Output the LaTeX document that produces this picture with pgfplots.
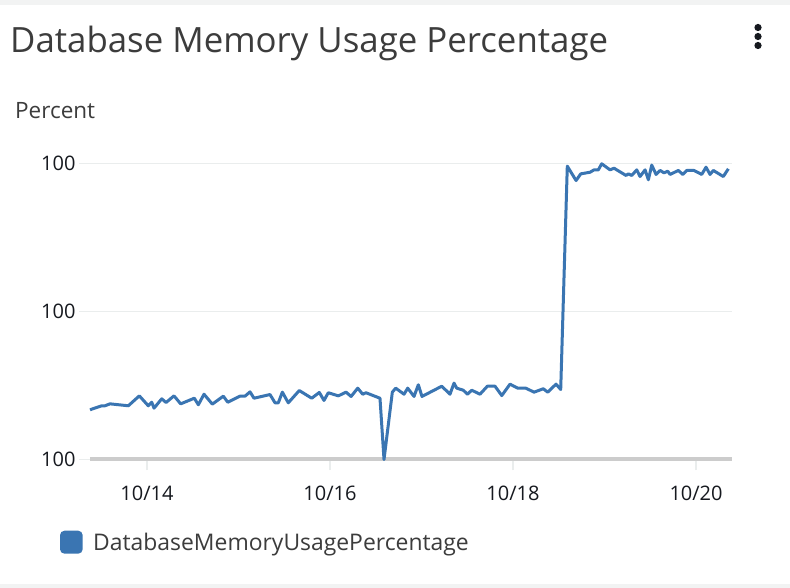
\documentclass[border=0pt]{standalone}
\usepackage{pgfplots}
\pgfplotsset{compat=1.18}
\usepackage{fontspec}
\setmainfont{Open Sans}
\definecolor{cwblue}{HTML}{3A75B2}
\definecolor{cwgrid}{HTML}{EAEDED}
\definecolor{cwbase}{HTML}{CCCCCC}
\definecolor{cwtext}{HTML}{3C3C3C}
\definecolor{cwdark}{HTML}{16191F}
\definecolor{cwband}{HTML}{F2F3F3}

\begin{document}
\begin{tikzpicture}[x=1pt,y=1pt]
\useasboundingbox (0pt,0pt) rectangle (790pt,588pt);
\fill[white] (0pt,0pt) rectangle (790pt,588pt);
\fill[cwband] (0pt,583pt) rectangle (790pt,588pt);
\fill[cwband] (0pt,0pt) rectangle (790pt,4pt);

% header
\node[anchor=base west, inner sep=0pt, text=cwtext, font=\fontsize{34.8}{42}\selectfont]
  at (10pt,535pt) {Database Memory Usage Percentage};
\node[anchor=base west, inner sep=0pt, text=cwtext, font=\fontsize{22.5}{27}\selectfont]
  at (15pt,469pt) {Percent};
\foreach \yy in {560.5,551.5,542.5} \fill[cwdark] (758pt,\yy pt) circle (3.6pt);

\begin{axis}[
    at={(90pt,128.5pt)}, anchor=south west,
    scale only axis,
    width=642pt, height=310.8pt,
    xmin=13.377, xmax=20.393,
    ymin=0, ymax=2.1,
    axis line style={draw=none},
    xtick pos=bottom, ytick pos=left,
    xtick={14,16,18,20},
    xticklabels={10/14,10/16,10/18,10/20},
    ytick={1,2},
    yticklabels={100,100},
    extra y ticks={0},
    extra y tick labels={100},
    extra y tick style={grid style={cwbase, line width=4pt}},
    ymajorgrids,
    grid style={cwgrid, line width=1.4pt},
    tick align=outside,
    major tick length=11pt,
    tick style={cwgrid, line width=1.4pt},
    ticklabel style={font=\fontsize{20}{24}\selectfont, text=cwdark},
    xticklabel style={yshift=-12pt},
    clip=false,
]
\addplot[cwblue, line width=3pt, line join=round] coordinates {
(13.377,0.336) (13.505,0.363) (13.541,0.363) (13.596,0.376) (13.796,0.363)
(13.916,0.430) (14.014,0.363) (14.051,0.387) (14.077,0.347) (14.161,0.410)
(14.208,0.385) (14.295,0.430) (14.368,0.376) (14.517,0.414) (14.561,0.370)
(14.623,0.441) (14.714,0.374) (14.834,0.428) (14.882,0.387) (15.016,0.428)
(15.071,0.428) (15.126,0.457) (15.169,0.414) (15.344,0.439) (15.399,0.383)
(15.435,0.383) (15.479,0.455) (15.544,0.383) (15.664,0.466) (15.800,0.414)
(15.883,0.453) (15.934,0.399) (15.981,0.451) (16.091,0.430) (16.175,0.455)
(16.230,0.426) (16.303,0.482) (16.357,0.441) (16.393,0.451) (16.546,0.414)
(16.590,0.000) (16.681,0.455) (16.718,0.482) (16.809,0.441) (16.849,0.482)
(16.918,0.426) (16.965,0.505) (17.005,0.426) (17.221,0.495) (17.311,0.441)
(17.355,0.516) (17.385,0.482) (17.457,0.468) (17.501,0.441) (17.549,0.468)
(17.639,0.441) (17.719,0.495) (17.803,0.495) (17.877,0.432) (17.967,0.509)
(18.051,0.482) (18.139,0.482) (18.230,0.455) (18.331,0.478) (18.379,0.455)
(18.470,0.509) (18.521,0.473) (18.593,1.982) (18.689,1.885) (18.740,1.930)
(18.842,1.941) (18.885,1.957) (18.932,1.957) (18.969,1.998) (19.060,1.957)
(19.104,1.968) (19.235,1.919) (19.260,1.930) (19.297,1.919) (19.352,1.957)
(19.388,1.912) (19.443,1.957) (19.479,1.890) (19.516,1.989) (19.563,1.926)
(19.607,1.953) (19.650,1.937) (19.691,1.948) (19.716,1.926) (19.807,1.953)
(19.855,1.926) (19.898,1.953) (19.978,1.953) (20.062,1.926) (20.109,1.975)
(20.153,1.926) (20.189,1.953) (20.298,1.912) (20.353,1.964)
};
\end{axis}

% legend
\fill[cwblue, rounded corners=4.5pt] (60pt,34.3pt) rectangle (82.7pt,57.3pt);
\node[anchor=base west, inner sep=0pt, text=cwtext, font=\fontsize{22.9}{27}\selectfont]
  at (93pt,37pt) {DatabaseMemoryUsagePercentage};
\end{tikzpicture}
\end{document}
